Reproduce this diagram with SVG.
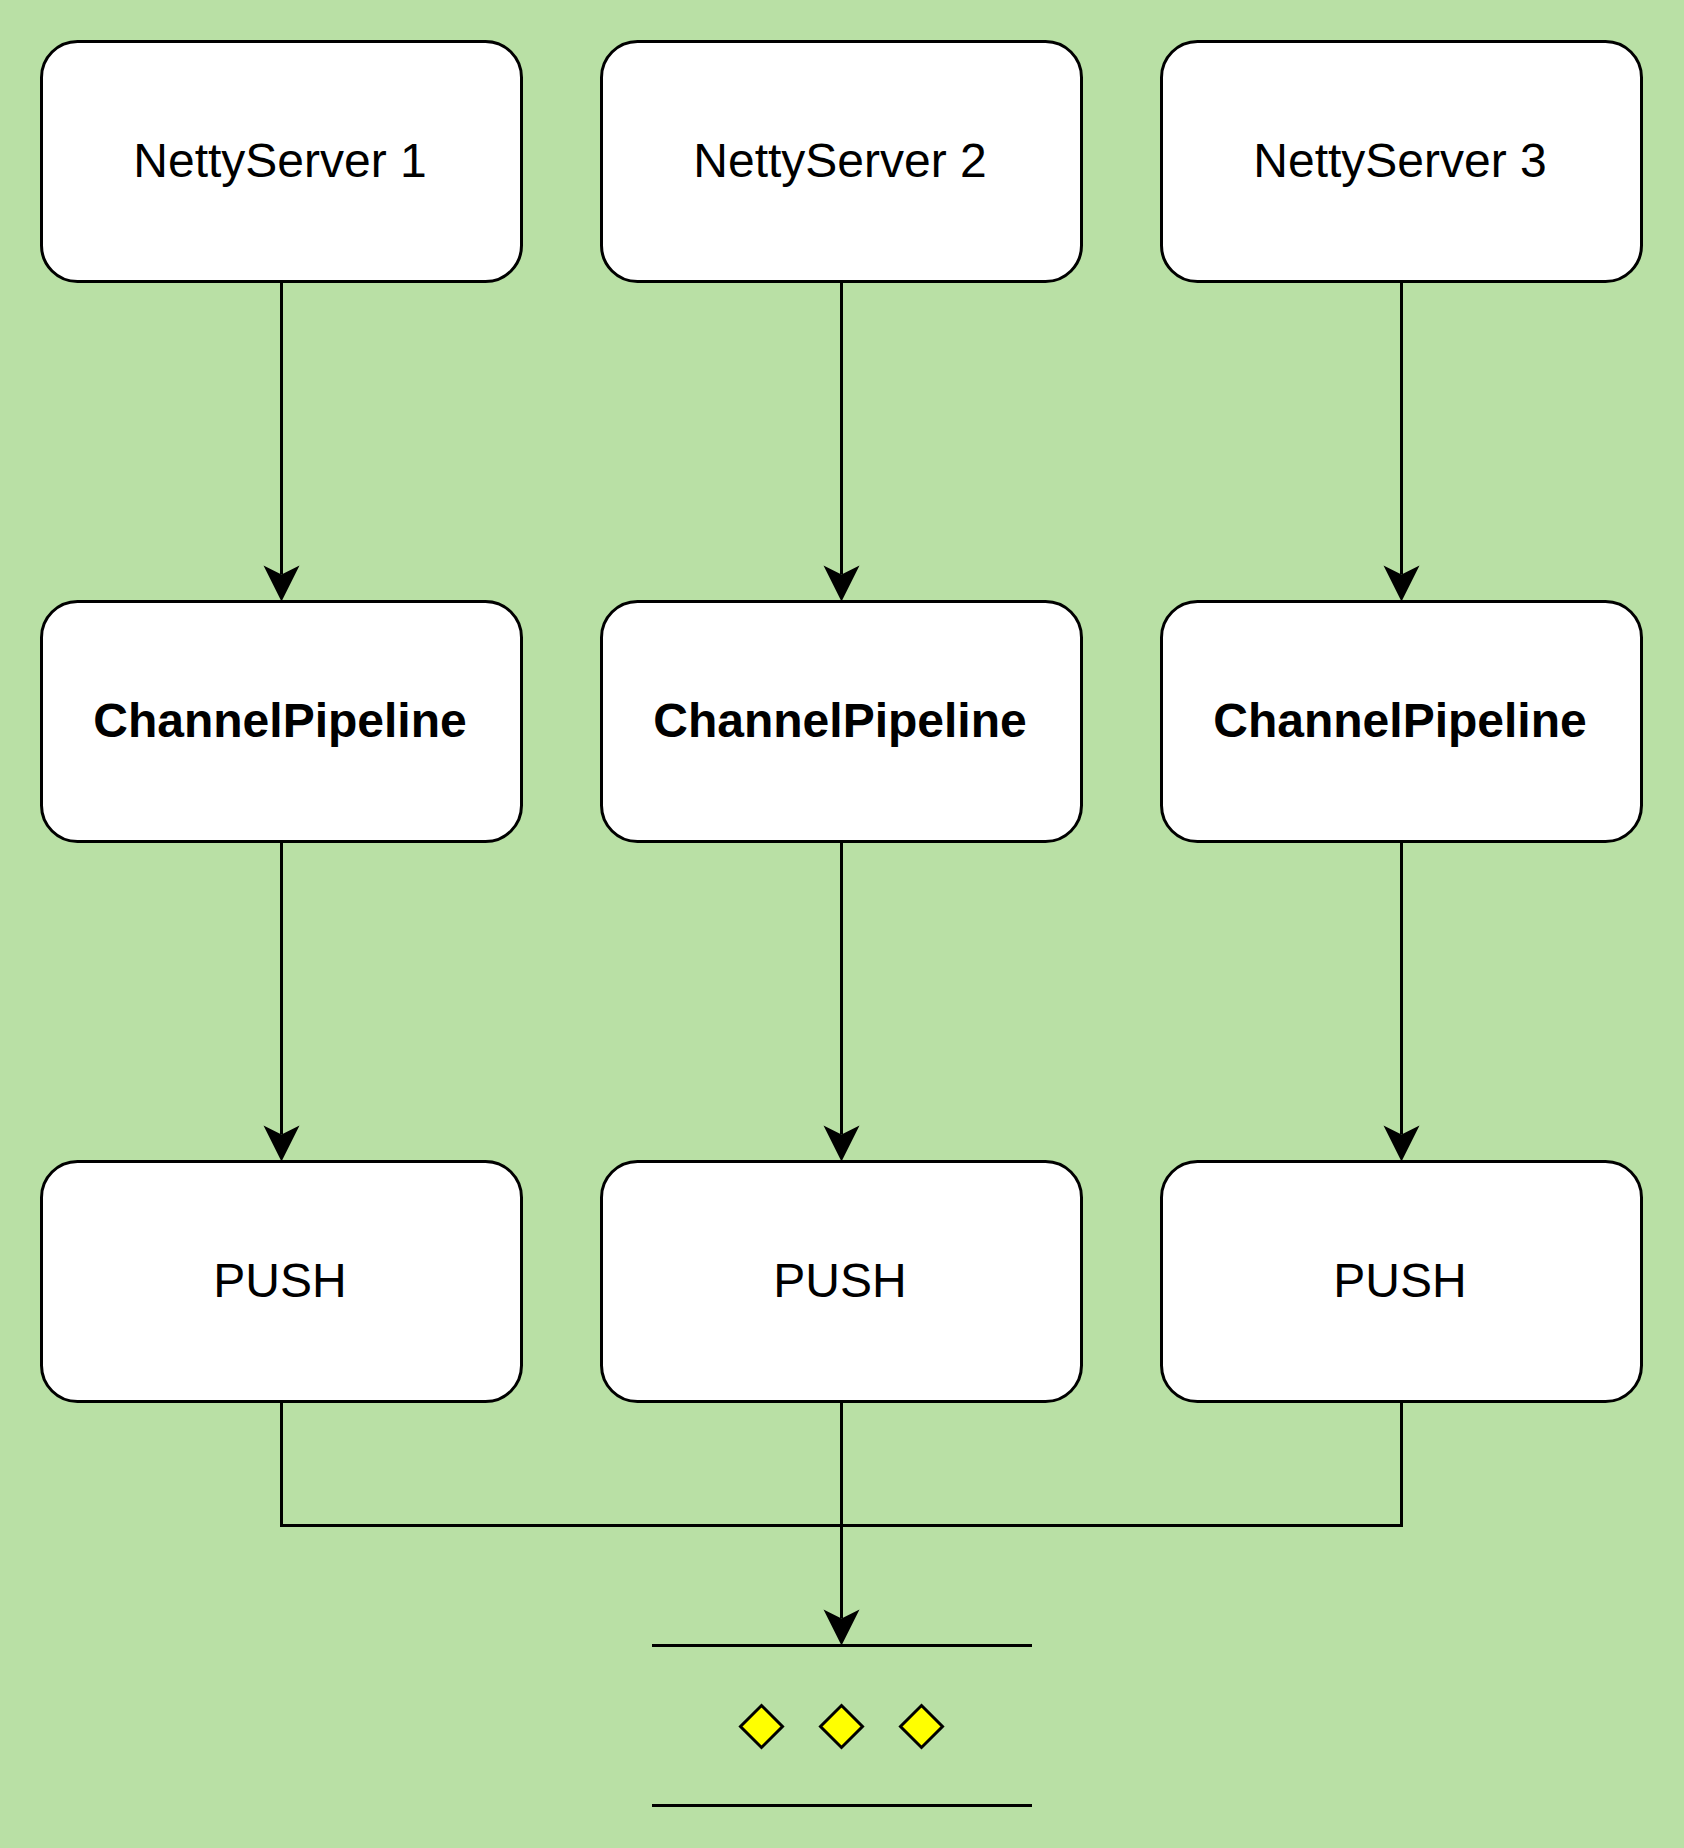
<svg xmlns="http://www.w3.org/2000/svg" width="1684" height="1848" viewBox="0 0 1684 1848">
<style>
.box{fill:#ffffff;stroke:#000000;stroke-width:3}
.lbl{font-family:"Liberation Sans",Arial,sans-serif;font-size:48px;fill:#000000;text-anchor:middle}
.b{font-weight:bold}
.edge{fill:none;stroke:#000000;stroke-width:3}
.dia{fill:#ffff00;stroke:#000000;stroke-width:3}
</style>
<defs>
<marker id="arr" markerUnits="userSpaceOnUse" viewBox="-40 -20 42 40" markerWidth="42" markerHeight="40" refX="-27" refY="0" orient="auto">
<path d="M0,0 L-36,-18 L-27,0 L-36,18 Z" fill="#000000" stroke="none"/>
</marker>
</defs>
<rect x="0" y="0" width="1684" height="1848" fill="#b9e0a5"/>
<g id="connectors">
<path class="edge" d="M281.5,281.5 V574.5" marker-end="url(#arr)"/>
<path class="edge" d="M841.5,281.5 V574.5" marker-end="url(#arr)"/>
<path class="edge" d="M1401.5,281.5 V574.5" marker-end="url(#arr)"/>
<path class="edge" d="M281.5,841.5 V1134.5" marker-end="url(#arr)"/>
<path class="edge" d="M841.5,841.5 V1134.5" marker-end="url(#arr)"/>
<path class="edge" d="M1401.5,841.5 V1134.5" marker-end="url(#arr)"/>
<path class="edge" d="M281.5,1401.5 V1525.5 H1401.5 V1401.5"/>
<path class="edge" d="M841.5,1401.5 V1618.5" marker-end="url(#arr)"/>
</g>
<g id="ns1"><rect class="box" x="41.5" y="41.5" width="480" height="240" rx="36"/><text class="lbl" x="280" y="177">NettyServer 1</text></g>
<g id="ns2"><rect class="box" x="601.5" y="41.5" width="480" height="240" rx="36"/><text class="lbl" x="840" y="177">NettyServer 2</text></g>
<g id="ns3"><rect class="box" x="1161.5" y="41.5" width="480" height="240" rx="36"/><text class="lbl" x="1400" y="177">NettyServer 3</text></g>
<g id="cp1"><rect class="box" x="41.5" y="601.5" width="480" height="240" rx="36"/><text class="lbl b" x="280" y="737">ChannelPipeline</text></g>
<g id="cp2"><rect class="box" x="601.5" y="601.5" width="480" height="240" rx="36"/><text class="lbl b" x="840" y="737">ChannelPipeline</text></g>
<g id="cp3"><rect class="box" x="1161.5" y="601.5" width="480" height="240" rx="36"/><text class="lbl b" x="1400" y="737">ChannelPipeline</text></g>
<g id="push1"><rect class="box" x="41.5" y="1161.5" width="480" height="240" rx="36"/><text class="lbl" x="280" y="1297">PUSH</text></g>
<g id="push2"><rect class="box" x="601.5" y="1161.5" width="480" height="240" rx="36"/><text class="lbl" x="840" y="1297">PUSH</text></g>
<g id="push3"><rect class="box" x="1161.5" y="1161.5" width="480" height="240" rx="36"/><text class="lbl" x="1400" y="1297">PUSH</text></g>
<g id="queue">
<line class="edge" x1="652" y1="1645.5" x2="1032" y2="1645.5"/>
<line class="edge" x1="652" y1="1805.5" x2="1032" y2="1805.5"/>
<path class="dia" d="M761.5,1705.5 L782.5,1726.5 L761.5,1747.5 L740.5,1726.5 Z"/>
<path class="dia" d="M841.5,1705.5 L862.5,1726.5 L841.5,1747.5 L820.5,1726.5 Z"/>
<path class="dia" d="M921.5,1705.5 L942.5,1726.5 L921.5,1747.5 L900.5,1726.5 Z"/>
</g>
</svg>
